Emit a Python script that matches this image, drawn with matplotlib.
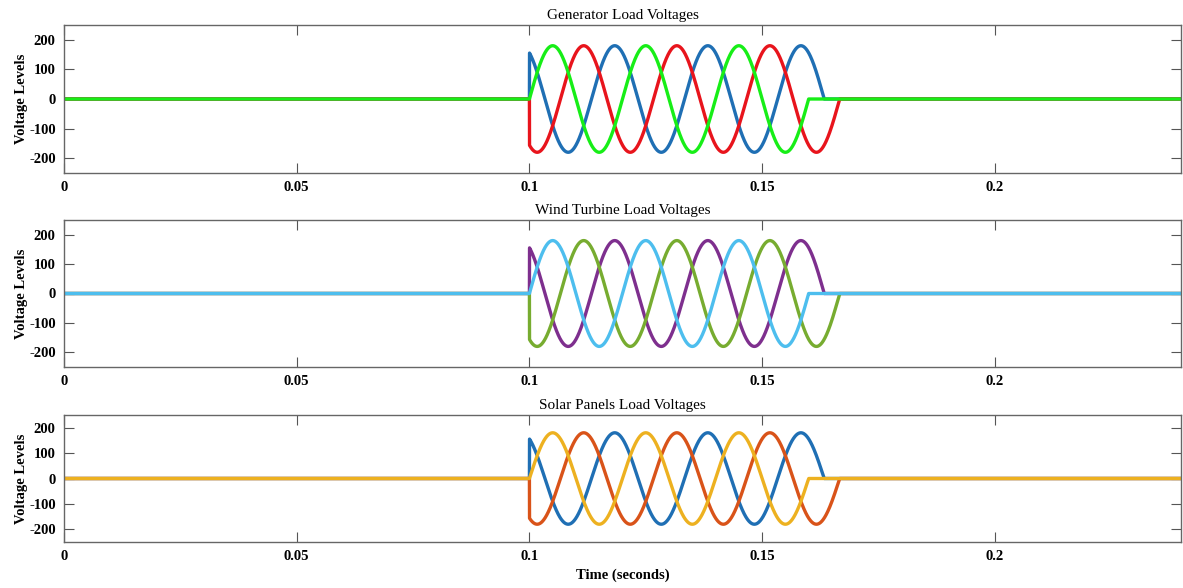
#!/usr/bin/env python
# three-phase load voltages for generator, wind turbine and solar panels
import numpy as np
import matplotlib
matplotlib.use('Agg')
import matplotlib.pyplot as plt

plt.rcParams['font.family'] = ['Liberation Serif', 'DejaVu Serif']

# data
titles = ['Generator Load Voltages', 'Wind Turbine Load Voltages', 'Solar Panels Load Voltages']
amplitude = 180.0          # V peak
freq = 50.0                # Hz
t_on = 0.1                 # s, load switched on
phase_deg = [120, 240, 0]  # phases a, b, c at switch-on
t_off = [0.16333, 0.16667, 0.16]   # each phase cleared at its zero crossing
t_end = 0.24
colors = [['#1f6fb4', '#e8141c', '#17ee17'],
          ['#7e2f8e', '#77ac30', '#4dbeee'],
          ['#1f6fb4', '#d95319', '#edb120']]
xticks = [0, 0.05, 0.1, 0.15, 0.2]
xticklabels = ['0', '0.05', '0.1', '0.15', '0.2']
yticks = [-200, -100, 0, 100, 200]

t = np.linspace(0, t_end, 9601)

W, H = 1183, 588
fig = plt.figure(figsize=(W / 100, H / 100), dpi=100)

# axes boxes in pixels: (top, bottom)
boxes = [(25, 173), (220, 367), (415, 542)]
left, right = 64, 1181

for k in range(3):
    top, bot = boxes[k]
    ax = fig.add_axes([left / W, 1 - bot / H, (right - left) / W, (bot - top) / H])
    for p in range(3):
        v = amplitude * np.sin(2 * np.pi * freq * (t - t_on) + np.radians(phase_deg[p]))
        v[(t < t_on) | (t > t_off[p])] = 0
        ax.plot(t, v, color=colors[k][p], lw=2.4, solid_joinstyle='round')
    ax.set_xlim(0, t_end)
    ax.set_ylim(-250, 250)
    ax.set_xticks(xticks)
    ax.set_xticklabels(xticklabels, fontweight='bold', fontsize=10.5)
    ax.set_yticks(yticks)
    ax.set_yticklabels([str(y) for y in yticks], fontweight='bold', fontsize=10.5)
    ax.tick_params(direction='in', top=True, right=True, length=7.5, width=0.8,
                   color='#555555', pad=6)
    for s in ax.spines.values():
        s.set_color('#666666')
        s.set_linewidth(1.0)
    ax.set_title(titles[k], fontsize=11, pad=4)
    ax.set_ylabel('Voltage Levels', fontweight='bold', fontsize=10.5, labelpad=1)
    if k == 2:
        ax.set_xlabel('Time (seconds)', fontweight='bold', fontsize=10.5, labelpad=4)

fig.savefig('out.png', dpi=100)
